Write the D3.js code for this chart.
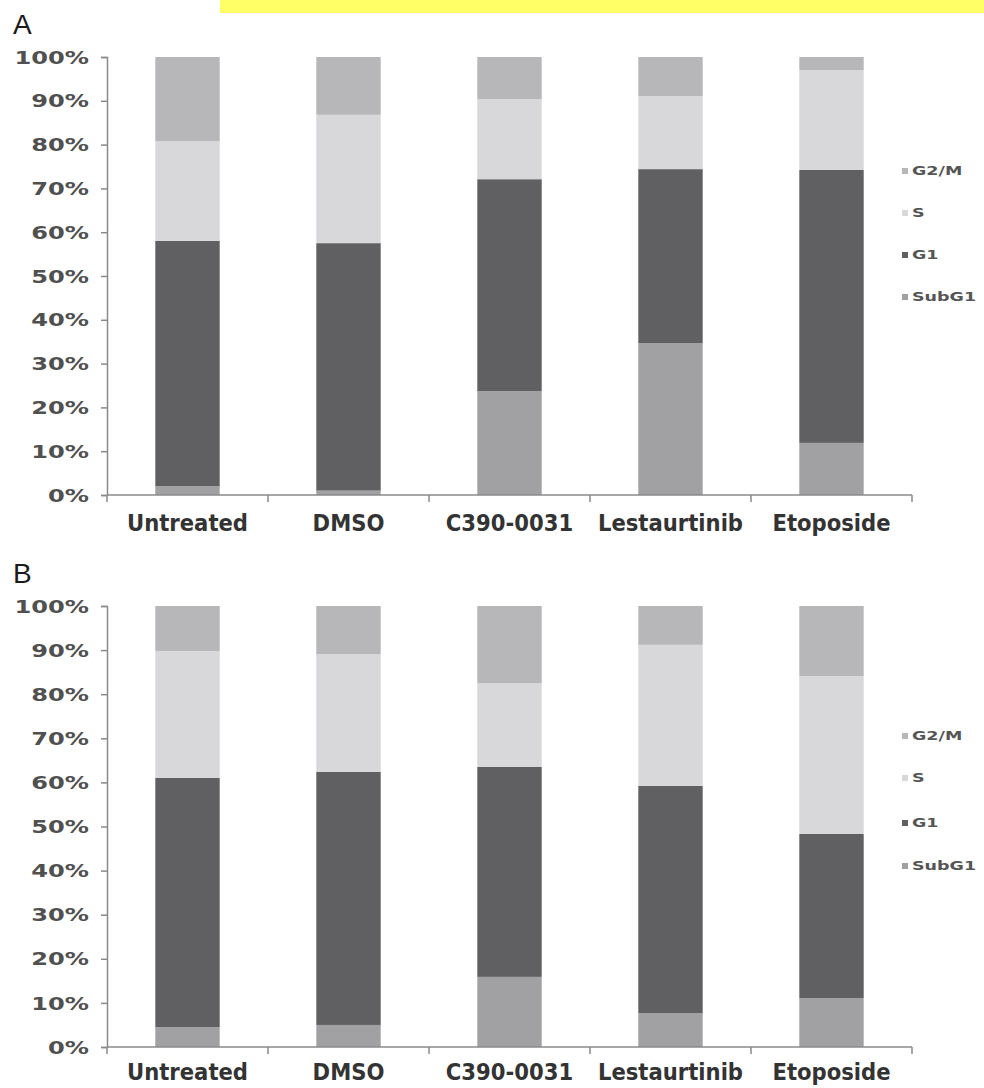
<!DOCTYPE html>
<html>
<head>
<meta charset="utf-8">
<script src="https://cdn.jsdelivr.net/npm/d3@7/dist/d3.min.js"></script>
<style>
  html, body { margin: 0; padding: 0; background: #ffffff; }
  svg { display: block; }
</style>
</head>
<body>
<svg id="chart" width="984" height="1088"></svg>
<script>
// ---- data ----
const categories = ["Untreated", "DMSO", "C390-0031", "Lestaurtinib", "Etoposide"];
const phases = ["SubG1", "G1", "S", "G2/M"];
const legendOrder = ["G2/M", "S", "G1", "SubG1"];
const yTickLabels = ["0%", "10%", "20%", "30%", "40%", "50%", "60%", "70%", "80%", "90%", "100%"];

// Panel A (% of cells per phase)
const subG1_A = [2, 1, 23.7, 34.7, 11.9];
const g1_A    = [56, 56.5, 48.4, 39.7, 62.3];
const s_A     = [22.8, 29.3, 18.3, 16.7, 22.8];
const g2m_A   = [19.2, 13.2, 9.6, 8.9, 3];

// Panel B
const subG1_B = [4.5, 5, 15.9, 7.7, 11.1];
const g1_B    = [56.5, 57.4, 47.6, 51.5, 37.2];
const s_B     = [28.8, 26.7, 19, 32, 35.8];
const g2m_B   = [10.2, 10.9, 17.5, 8.8, 15.9];

const colors = { "SubG1": "#a1a1a4", "G1": "#606062", "S": "#d8d8da", "G2/M": "#b7b7b9" };

// ---- drawing ----
const svg = d3.select("#chart");

// yellow strip at the top
svg.append("rect").attr("x", 220).attr("y", 0).attr("width", 764).attr("height", 13).attr("fill", "#ffff66");

function drawPanel(letter, letterY, top, bottom, labelOffset, sub, g1, s, g2m, legendYs) {
  const table = categories.map((c, i) => ({ cat: c, "SubG1": sub[i], "G1": g1[i], "S": s[i], "G2/M": g2m[i] }));
  const stacked = d3.stack().keys(phases)(table);

  const x = d3.scaleBand().domain(categories).range([107, 912]).paddingInner(0.6).paddingOuter(0.3);
  const xTicks = d3.scaleBand().domain(categories).range([107, 912]);
  const y = d3.scaleLinear().domain([0, 100]).range([bottom, top]);

  const g = svg.append("g");

  g.append("text").attr("x", 13).attr("y", letterY).text(letter)
    .attr("font-family", "Liberation Sans, Arial, sans-serif").attr("font-size", 28).attr("fill", "#1a1a1a");

  // bars
  g.selectAll("g.layer").data(stacked).join("g").attr("class", "layer")
    .attr("fill", d => colors[d.key])
    .selectAll("rect").data(d => d).join("rect")
    .attr("x", d => x(d.data.cat))
    .attr("width", x.bandwidth())
    .attr("y", d => y(d[1]))
    .attr("height", d => y(d[0]) - y(d[1]));

  // y axis
  const sx = 1.42;
  const yAxis = d3.axisLeft(y).tickValues(d3.range(0, 101, 10)).tickSize(6).tickPadding(10)
    .tickFormat((d, i) => yTickLabels[i]);
  const ya = g.append("g").attr("transform", "translate(107,0)").call(yAxis);
  ya.select(".domain").attr("stroke", "#8a8a8a").attr("stroke-width", 1.5);
  ya.selectAll(".tick line").attr("stroke", "#8a8a8a").attr("stroke-width", 1.5);
  ya.selectAll(".tick text")
    .attr("font-family", "DejaVu Sans, Verdana, sans-serif").attr("font-weight", "bold")
    .attr("font-size", 17).attr("fill", "#505050")
    .attr("transform", `scale(${sx},1)`)
    .attr("x", -18 / sx)
    .attr("dy", "0.36em");

  // x axis
  const xa = g.append("g").attr("transform", `translate(0,${bottom})`);
  xa.append("line").attr("x1", 107).attr("x2", 912).attr("y1", 0).attr("y2", 0)
    .attr("stroke", "#8a8a8a").attr("stroke-width", 1.5);
  xa.selectAll("line.tk").data(categories.concat(["end"])).join("line").attr("class", "tk")
    .attr("x1", (d, i) => i < categories.length ? xTicks(d) : xTicks.range()[1])
    .attr("x2", (d, i) => i < categories.length ? xTicks(d) : xTicks.range()[1])
    .attr("y1", 0).attr("y2", 7)
    .attr("stroke", "#8a8a8a").attr("stroke-width", 1.5);
  xa.selectAll("text").data(categories).join("text")
    .attr("x", d => x(d) + x.bandwidth() / 2)
    .attr("y", labelOffset)
    .attr("text-anchor", "middle")
    .attr("font-family", "DejaVu Sans Condensed, DejaVu Sans, sans-serif")
    .attr("font-stretch", "condensed")
    .attr("font-weight", "bold").attr("font-size", 23.5).attr("fill", "#333")
    .text(d => d);

  // legend
  const lg = g.append("g");
  legendOrder.forEach((k, i) => {
    lg.append("rect").attr("x", 902).attr("y", legendYs[i] - 3).attr("width", 6).attr("height", 6).attr("fill", colors[k]);
    lg.append("text").attr("x", 0).attr("y", legendYs[i]).attr("dy", "0.36em")
      .attr("transform", "translate(912,0) scale(1.4,1)")
      .attr("font-family", "DejaVu Sans, Verdana, sans-serif").attr("font-weight", "bold")
      .attr("font-size", 12.5).attr("fill", "#555").text(k);
  });
}

drawPanel("A", 34, 57, 495, 36, subG1_A, g1_A, s_A, g2m_A, [171, 213, 255, 297]);
drawPanel("B", 583, 606, 1047, 33, subG1_B, g1_B, s_B, g2m_B, [736, 778, 823, 866]);
</script>
</body>
</html>
